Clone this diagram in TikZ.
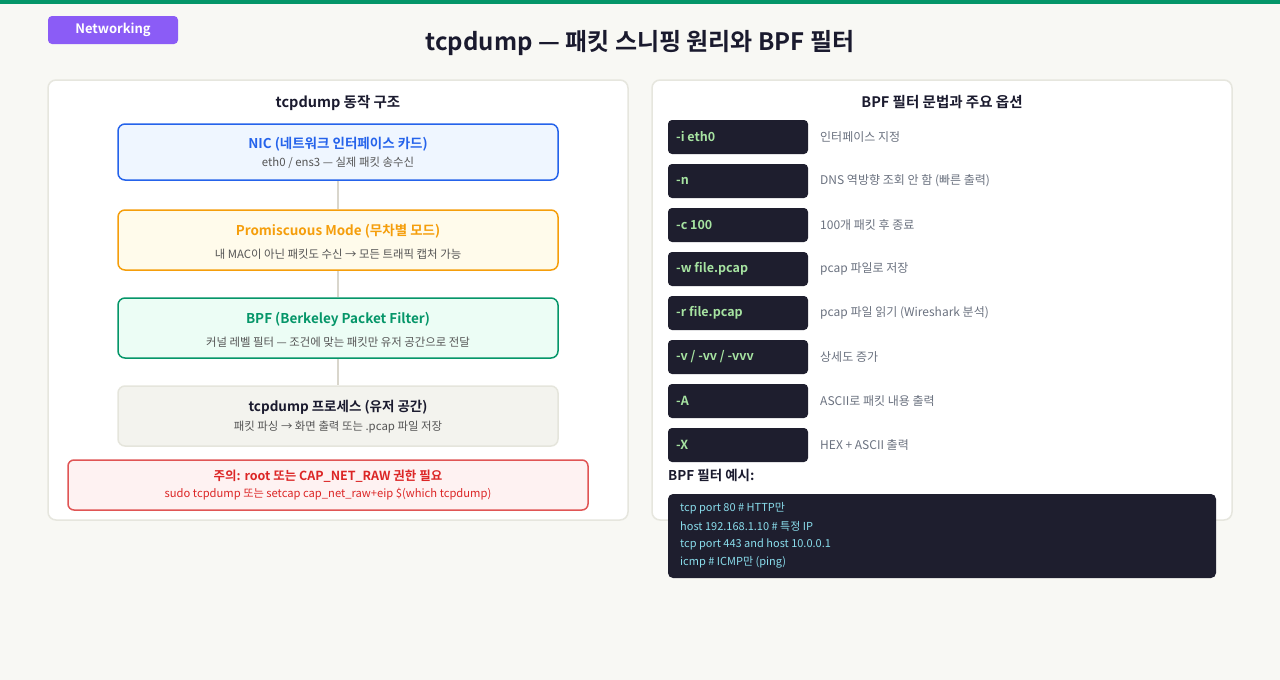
\documentclass[tikz,border=0pt]{standalone}
\usepackage{fontspec}
\setmainfont{Noto Sans CJK KR}[BoldFont={Noto Sans CJK KR Bold}]
\usetikzlibrary{positioning}

\definecolor{pagebg}{HTML}{F8F8F4}
\definecolor{topbar}{HTML}{059669}
\definecolor{badge}{HTML}{8B5CF6}
\definecolor{ink}{HTML}{1A1A2E}
\definecolor{subgray}{HTML}{555555}
\definecolor{descgray}{HTML}{6B7280}
\definecolor{panelline}{HTML}{E6E6DE}
\definecolor{linkgray}{HTML}{D9D6CC}
\definecolor{nicblue}{HTML}{2563EB}
\definecolor{nicfill}{HTML}{EFF6FF}
\definecolor{promorange}{HTML}{F59E0B}
\definecolor{promfill}{HTML}{FFFBEB}
\definecolor{bpfgreen}{HTML}{059669}
\definecolor{bpffill}{HTML}{ECFDF5}
\definecolor{procfill}{HTML}{F3F3EE}
\definecolor{procline}{HTML}{E5E5DC}
\definecolor{warnred}{HTML}{DC2626}
\definecolor{warnline}{HTML}{E05555}
\definecolor{warnfill}{HTML}{FEF2F2}
\definecolor{codebg}{HTML}{1E1E2E}
\definecolor{optgreen}{HTML}{A6E3A1}
\definecolor{codecyan}{HTML}{89DCEB}

\tikzset{
  panel/.style={draw=panelline, line width=1.5pt, fill=white, rounded corners=8pt},
  stage/.style={line width=1.5pt, rounded corners=7pt, minimum width=440pt, minimum height=#1, inner sep=0pt},
  stagetitle/.style={font=\bfseries\fontsize{13.5}{16}\selectfont},
  stagesub/.style={font=\fontsize{11.4}{13}\selectfont, text=subgray},
  link/.style={draw=linkgray, line width=1.5pt},
  optbox/.style={fill=codebg, rounded corners=4pt, minimum width=140pt, minimum height=34pt, inner sep=0pt},
  opttext/.style={font=\bfseries\fontsize{12.5}{15}\selectfont, text=optgreen, anchor=west, inner sep=0pt},
  optdesc/.style={font=\fontsize{12}{14}\selectfont, text=descgray, anchor=west, inner sep=0pt},
  codeline/.style={font=\fontsize{11}{13}\selectfont, text=codecyan, anchor=west, inner sep=0pt}
}

\begin{document}
\begin{tikzpicture}[x=1pt, y=-1pt]
    \fill[pagebg] (0,0) rectangle (1280,680);
    \useasboundingbox (0,0) rectangle (1280,680);
    \fill[topbar] (0,0) rectangle (1280,4);

    % header
    \node[fill=badge, rounded corners=4pt, minimum width=130pt, minimum height=28pt, inner sep=0pt,
          text=white, font=\bfseries\fontsize{13}{15}\selectfont] (badge) at (113,30) {Networking};
    \node[text=ink, font=\bfseries\fontsize{24}{28}\selectfont] (title) at (640,43) {tcpdump — 패킷 스니핑 원리와 BPF 필터};

    % left panel
    \draw[panel] (48,80) rectangle (628,520);
    \node[text=ink, font=\bfseries\fontsize{14.5}{17}\selectfont] (lefttitle) at (338,103) {tcpdump 동작 구조};

    \node[stage=56pt, draw=nicblue, fill=nicfill] (nic) at (338,152) {};
    \node[stagetitle, text=nicblue] (nictitle) at (338,144) {NIC (네트워크 인터페이스 카드)};
    \node[stagesub] (nicsub) at (338,163) {eth0 / ens3 — 실제 패킷 송수신};

    \node[stage=60pt, draw=promorange, fill=promfill] (promisc) at (338,240) {};
    \node[stagetitle, text=promorange] (promtitle) at (338,231) {Promiscuous Mode (무차별 모드)};
    \node[stagesub] (promsub) at (338,254) {내 MAC이 아닌 패킷도 수신 → 모든 트래픽 캡처 가능};

    \node[stage=60pt, draw=bpfgreen, fill=bpffill] (bpf) at (338,328) {};
    \node[stagetitle, text=bpfgreen] (bpftitle) at (338,319) {BPF (Berkeley Packet Filter)};
    \node[stagesub] (bpfsub) at (338,342) {커널 레벨 필터 — 조건에 맞는 패킷만 유저 공간으로 전달};

    \node[stage=60pt, draw=procline, fill=procfill] (proc) at (338,416) {};
    \node[stagetitle, text=ink] (proctitle) at (338,407) {tcpdump 프로세스 (유저 공간)};
    \node[stagesub] (procsub) at (338,427) {패킷 파싱 → 화면 출력 또는 .pcap 파일 저장};

    \draw[link] (nic) -- (promisc);
    \draw[link] (promisc) -- (bpf);
    \draw[link] (bpf) -- (proc);

    \node[draw=warnline, fill=warnfill, line width=1.5pt, rounded corners=6pt,
          minimum width=520pt, minimum height=50pt, inner sep=0pt] (warn) at (328,485) {};
    \node[text=warnred, font=\bfseries\fontsize{12.5}{15}\selectfont] (warntitle) at (328,476) {주의: root 또는 CAP\_NET\_RAW 권한 필요};
    \node[text=warnred, font=\fontsize{11.2}{13}\selectfont] (warnsub) at (328,494) {sudo tcpdump 또는 setcap cap\_net\_raw+eip \$(which tcpdump)};

    % right panel
    \draw[panel] (652,80) rectangle (1232,520);
    \node[text=ink, font=\bfseries\fontsize{14.5}{17}\selectfont] (righttitle) at (942,102) {BPF 필터 문법과 주요 옵션};

    \foreach \opt/\desc [count=\i] in {
        {-i eth0}/{인터페이스 지정},
        {-n}/{DNS 역방향 조회 안 함 (빠른 출력)},
        {-c 100}/{100개 패킷 후 종료},
        {-w file.pcap}/{pcap 파일로 저장},
        {-r file.pcap}/{pcap 파일 읽기 (Wireshark 분석)},
        {-v / -vv / -vvv}/{상세도 증가},
        {-A}/{ASCII로 패킷 내용 출력},
        {-X}/{HEX + ASCII 출력}} {
      \pgfmathsetmacro{\rowy}{137+44*(\i-1)}
      \node[optbox] (opt\i) at (738,\rowy) {};
      \node[opttext] (optlabel\i) at (676,\rowy) {\opt};
      \node[optdesc] (optdesc\i) at (820,\rowy) {\desc};
    }

    \node[anchor=west, inner sep=0pt, text=ink, font=\bfseries\fontsize{13.5}{16}\selectfont] (extitle) at (668,475) {BPF 필터 예시:};
    \node[fill=codebg, rounded corners=5pt, minimum width=548pt, minimum height=84pt, inner sep=0pt] (code) at (942,536) {};
    \node[codeline] (code1) at (680,508) {tcp port 80 \# HTTP만};
    \node[codeline] (code2) at (680,526) {host 192.168.1.10 \# 특정 IP};
    \node[codeline] (code3) at (680,544) {tcp port 443 and host 10.0.0.1};
    \node[codeline] (code4) at (680,562) {icmp \# ICMP만 (ping)};
\end{tikzpicture}
\end{document}
